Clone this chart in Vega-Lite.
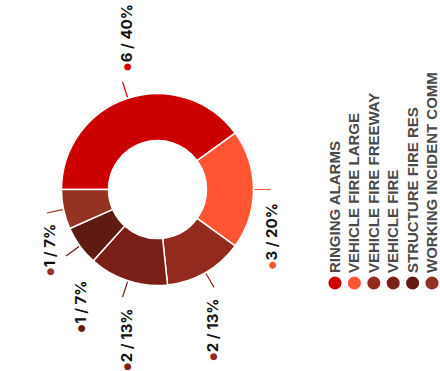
{
  "$schema": "https://vega.github.io/schema/vega-lite/v6.json",
  "autosize": {"type": "pad"},
  "padding": 0,
  "spacing": 0,
  "background": "white",
  "config": {"view": {"stroke": null}},
  "data": {
    "values": [
      {"rank": 1, "name": "RINGING ALARMS", "count": 6, "label": "6 / 40%"},
      {"rank": 2, "name": "VEHICLE FIRE LARGE", "count": 3, "label": "3 / 20%"},
      {"rank": 3, "name": "VEHICLE FIRE FREEWAY", "count": 2, "label": "2 / 13%"},
      {"rank": 4, "name": "VEHICLE FIRE", "count": 2, "label": "2 / 13%"},
      {"rank": 5, "name": "STRUCTURE FIRE RES", "count": 1, "label": "1 / 7%"},
      {"rank": 6, "name": "WORKING INCIDENT COMM", "count": 1, "label": "1 / 7%"}
    ]
  },
  "hconcat": [
    {
      "width": 315,
      "height": 379,
      "encoding": {
        "theta": {"field": "count", "type": "quantitative", "stack": true, "scale": {"range": [-1.5708, 4.7124]}},
        "order": {"field": "rank", "type": "quantitative"}
      },
      "layer": [
        {
          "mark": {"type": "arc", "outerRadius": 96, "innerRadius": 49, "stroke": "white", "strokeWidth": 1.5},
          "encoding": {
            "color": {"field": "name", "type": "nominal", "legend": null,
              "scale": {"domain": ["RINGING ALARMS", "VEHICLE FIRE LARGE", "VEHICLE FIRE FREEWAY", "VEHICLE FIRE", "STRUCTURE FIRE RES", "WORKING INCIDENT COMM"],
                        "range": ["#cc0000", "#ff5533", "#922a1e", "#7a1f17", "#5f1a12", "#943223"]}}
          }
        },
        {
          "mark": {"type": "arc", "outerRadius": 113, "innerRadius": 97, "padAngle": 3.1, "filled": false, "strokeWidth": 1.2},
          "encoding": {
            "color": {"field": "name", "type": "nominal", "legend": null}
          }
        },
        {
          "mark": {"type": "text", "radius": 125, "angle": 270, "align": "center", "baseline": "middle", "fontSize": 9, "font": "DejaVu Sans",
            "dx": {"expr": "datum.rank == 1 ? 3.9 : datum.rank == 2 ? -75.5 : datum.rank == 3 ? -58.9 : datum.rank == 4 ? -58.3 : datum.rank == 5 ? -65.3 : -56.2"},
            "dy": {"expr": "datum.rank == 1 ? 7.8 : datum.rank == 2 ? -10.8 : datum.rank == 3 ? -6.7 : datum.rank == 4 ? 7.8 : datum.rank == 5 ? 24.3 : 14.8"}},
          "encoding": {
            "text": {"value": "●"},
            "color": {"field": "name", "type": "nominal", "legend": null}
          }
        },
        {
          "mark": {"type": "text", "radius": 125, "angle": 270, "align": "left", "baseline": "middle", "fontSize": 15, "font": "Inter", "fontWeight": "bold", "color": "#111111",
            "dx": {"expr": "4.5 + (datum.rank == 1 ? 3.9 : datum.rank == 2 ? -75.5 : datum.rank == 3 ? -58.9 : datum.rank == 4 ? -58.3 : datum.rank == 5 ? -65.3 : -56.2)"},
            "dy": {"expr": "datum.rank == 1 ? 7.8 : datum.rank == 2 ? -10.8 : datum.rank == 3 ? -6.7 : datum.rank == 4 ? 7.8 : datum.rank == 5 ? 24.3 : 14.8"}},
          "encoding": {
            "text": {"field": "label", "type": "nominal"}
          }
        }
      ]
    },
    {
      "width": 125,
      "height": 379,
      "encoding": {
        "x": {"field": "name", "type": "nominal", "sort": {"field": "rank"}, "axis": null,
              "scale": {"type": "point", "range": [20, 117], "padding": 0}}
      },
      "layer": [
        {
          "mark": {"type": "circle", "size": 170, "opacity": 1, "yOffset": 93.5},
          "encoding": {
            "color": {"field": "name", "type": "nominal", "legend": null,
              "scale": {"domain": ["RINGING ALARMS", "VEHICLE FIRE LARGE", "VEHICLE FIRE FREEWAY", "VEHICLE FIRE", "STRUCTURE FIRE RES", "WORKING INCIDENT COMM"],
                        "range": ["#cc0000", "#ff5533", "#922a1e", "#7a1f17", "#5f1a12", "#943223"]}}
          }
        },
        {
          "mark": {"type": "text", "angle": 270, "align": "left", "baseline": "middle", "dx": -83.5, "font": "Liberation Sans", "fontWeight": "bold", "fontSize": 15, "color": "#4a4a4a"},
          "encoding": {
            "text": {"field": "name", "type": "nominal"}
          }
        }
      ]
    }
  ]
}
